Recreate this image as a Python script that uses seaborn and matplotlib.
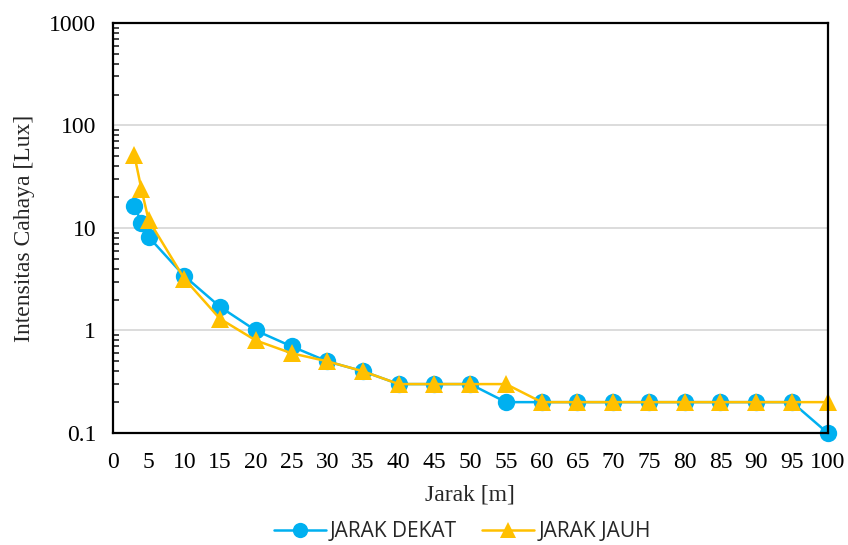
import matplotlib
matplotlib.use("Agg")
import matplotlib.pyplot as plt
import seaborn as sns
import pandas as pd
import numpy as np
from matplotlib.ticker import LogLocator, FixedLocator, NullFormatter
from matplotlib.lines import Line2D

jarak = [3, 4, 5, 10, 15, 20, 25, 30, 35, 40, 45, 50, 55, 60, 65, 70, 75, 80, 85, 90, 95, 100]
jarak_dekat = [16.5, 11.3, 8.2, 3.4, 1.7, 1.0, 0.7, 0.5, 0.4, 0.3, 0.3, 0.3, 0.2, 0.2, 0.2, 0.2, 0.2, 0.2, 0.2, 0.2, 0.2, 0.1]
jarak_jauh = [52, 24, 12, 3.2, 1.3, 0.8, 0.6, 0.5, 0.4, 0.3, 0.3, 0.3, 0.3, 0.2, 0.2, 0.2, 0.2, 0.2, 0.2, 0.2, 0.2, 0.2]
series_names = ["JARAK DEKAT", "JARAK JAUH"]
x_ticks = list(range(0, 101, 5))
y_ticks = [0.1, 1, 10, 100, 1000]
y_ticklabels = ["0.1", "1", "10", "100", "1000"]

sns.set_style("white")
plt.rcParams["font.family"] = ["Liberation Serif", "DejaVu Serif"]

df = pd.DataFrame({
    "Jarak": jarak * 2,
    "Intensitas": jarak_dekat + jarak_jauh,
    "Seri": [series_names[0]] * len(jarak) + [series_names[1]] * len(jarak),
})

fig = plt.figure(figsize=(8.48, 5.45), dpi=100)
ax = fig.add_axes([0.133, 0.2055, 0.843, 0.7525])

palette = {series_names[0]: "#00B0F0", series_names[1]: "#FFC000"}
markers = {series_names[0]: "o", series_names[1]: "^"}
sns.lineplot(data=df, x="Jarak", y="Intensitas", hue="Seri", style="Seri",
             palette=palette, markers=markers, dashes=False, markersize=12.5,
             markeredgewidth=0, linewidth=1.8, ax=ax, legend=False, clip_on=False)

ax.set_yscale("log")
ax.set_ylim(0.1, 1000)
ax.set_xlim(0, 100)
ax.set_xticks(x_ticks)
ax.set_xticklabels([str(t) for t in x_ticks])
ax.yaxis.set_major_locator(FixedLocator(y_ticks))
ax.set_yticklabels(y_ticklabels)
ax.yaxis.set_minor_locator(LogLocator(base=10, subs=np.arange(2, 10)))
ax.yaxis.set_minor_formatter(NullFormatter())

ax.grid(axis="y", which="major", color="#D9D9D9", linewidth=1.3)
ax.set_axisbelow(True)
for s in ax.spines.values():
    s.set_color("black")
    s.set_linewidth(1.6)
    s.set_visible(True)

ax.tick_params(axis="x", which="major", direction="out", length=5, width=1.3, labelsize=17, colors="black", pad=9)
ax.tick_params(axis="y", which="major", direction="in", length=5, width=1.3, labelsize=17, colors="black", pad=12)
ax.tick_params(axis="y", which="minor", direction="in", length=4, width=1.2, left=True)

ax.set_xlabel("Jarak [m]", fontsize=17, labelpad=8)
ax.set_ylabel("Intensitas Cahaya [Lux]", fontsize=17, labelpad=10)

handles = [
    Line2D([], [], color=palette[series_names[0]], marker="o", markersize=11, markeredgewidth=0, linewidth=1.8),
    Line2D([], [], color=palette[series_names[1]], marker="^", markersize=11, markeredgewidth=0, linewidth=1.8),
]
fig.legend(handles, series_names, loc="center", bbox_to_anchor=(0.545, 0.025), ncol=2,
           frameon=False, prop={"family": ["Open Sans", "DejaVu Sans"], "size": 15},
           handlelength=2.5, columnspacing=1.2, handletextpad=0.2, borderaxespad=0, borderpad=0)

fig.savefig("out.png", dpi=100)
